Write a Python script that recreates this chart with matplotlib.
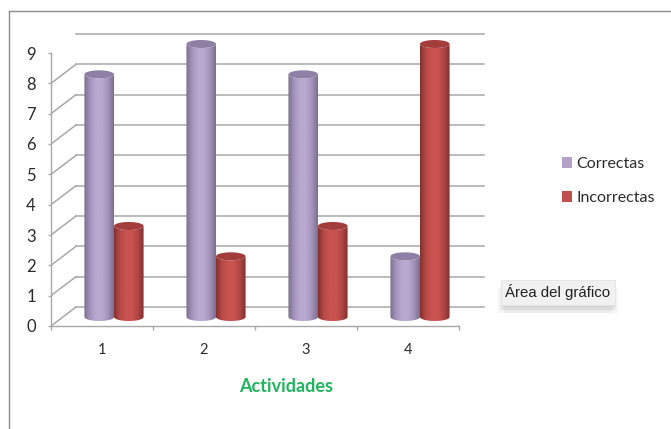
import numpy as np
import matplotlib
matplotlib.use("Agg")
import matplotlib.pyplot as plt
from matplotlib.colors import LinearSegmentedColormap
from matplotlib.lines import Line2D
from matplotlib.patches import Patch, PathPatch
from matplotlib.path import Path
from matplotlib.patheffects import withSimplePatchShadow
from matplotlib.transforms import Affine2D

categories = ["1", "2", "3", "4"]
correctas = [8, 9, 8, 2]
incorrectas = [3, 2, 3, 9]
y_ticks = list(range(10))

W, H = 671, 429
GRAY = "#a8a8a8"
TEXT = "#2b2b2b"
plt.rcParams["font.family"] = ["Lato", "DejaVu Sans"]

fig = plt.figure(figsize=(W / 100, H / 100), dpi=100)
# front plane of the 3D box: x 51..459, y 326..53 in pixels
ax = fig.add_axes([51 / W, 1 - 326 / H, 408 / W, 273 / H])
ax.set_xlim(0.5, 4.5)
ax.set_ylim(0, 9)
ax.patch.set_visible(False)
for s in ["top", "right"]:
    ax.spines[s].set_visible(False)
for s in ["left", "bottom"]:
    ax.spines[s].set_color(GRAY)
    ax.spines[s].set_linewidth(1.0)

ax.set_yticks(y_ticks)
ax.set_xticks(range(1, 5))
ax.set_xticklabels(categories)
ax.set_xticks(np.arange(0.5, 5, 1), minor=True)
ax.tick_params(axis="x", which="major", length=0, pad=12, labelsize=10.5, labelcolor=TEXT)
ax.tick_params(axis="x", which="minor", length=3, color=GRAY, width=1.0)
ax.tick_params(axis="y", length=2, color=GRAY, width=1.0, pad=9, labelsize=12, labelcolor=TEXT)

# back wall is the front plane pushed by the depth offset
back = ax.transData + Affine2D().translate(25, 19)
mid = ax.transData + Affine2D().translate(12, 9)

for v in y_ticks:
    ax.plot([0.5, 4.5], [v, v], transform=back, color=GRAY, lw=1.1, clip_on=False, zorder=1)
    # side wall diagonal
    x0, y0 = ax.transData.transform((0.5, v))
    x1, y1 = back.transform((0.5, v))
    ax.add_line(Line2D([x0, x1], [y0, y1], transform=None, color=GRAY, lw=1.1, zorder=1))
# floor, right side
x0, y0 = ax.transData.transform((4.5, 0))
x1, y1 = back.transform((4.5, 0))
ax.add_line(Line2D([x0, x1], [y0, y1], transform=None, color=GRAY, lw=1.1, zorder=1))

purple_cmap = LinearSegmentedColormap.from_list(
    "p", ["#7d6f90", "#a493bb", "#b9a8d0", "#b9a8d0", "#a493bb", "#7d6f90"])
red_cmap = LinearSegmentedColormap.from_list(
    "r", ["#843130", "#b84a47", "#c9534f", "#c9534f", "#b04644", "#843130"])
grad = np.linspace(0, 1, 64).reshape(1, -1)

BAR_W = 0.29
RY = 4 / 30.33  # ellipse half height in value units


def cylinder(center, value, cmap, top_color, z):
    left, right = center - BAR_W / 2, center + BAR_W / 2
    t = np.linspace(np.pi, 2 * np.pi, 40)
    bx = center + BAR_W / 2 * np.cos(t)
    by = RY * np.sin(t)
    tx = center + BAR_W / 2 * np.cos(t[::-1])
    ty = value + RY * np.sin(t[::-1])
    body = Path(np.column_stack([np.r_[bx, tx], np.r_[by, ty]]))
    im = ax.imshow(grad, extent=(left, right, -RY, value + RY), aspect="auto", cmap=cmap,
                   transform=mid, zorder=z)
    im.set_clip_path(PathPatch(body, transform=mid))
    im.set_clip_box(fig.bbox)
    t2 = np.linspace(0, 2 * np.pi, 60)
    top = Path(np.column_stack([center + BAR_W / 2 * np.cos(t2), value + RY * np.sin(t2)]))
    ax.add_patch(PathPatch(top, transform=mid, facecolor=top_color, edgecolor="none",
                           zorder=z + 0.1, clip_on=False))


for i, cat in enumerate(categories):
    cylinder(i + 1 - BAR_W / 2, correctas[i], purple_cmap, "#8e7fa4", 3 + i * 0.01)
    cylinder(i + 1 + BAR_W / 2, incorrectas[i], red_cmap, "#a23d3b", 4 + i * 0.01)
ax.set_xlim(0.5, 4.5)
ax.set_ylim(0, 9)

ax.set_xlabel("Actividades", fontsize=13, fontweight="bold", color="#22b35e")
ax.xaxis.set_label_coords((286 - 51) / 408, -(387 - 326) / 273, transform=ax.transAxes)
ax.xaxis.label.set_verticalalignment("center")

handles = [Patch(facecolor="#b3a2c7", label="Correctas"), Patch(facecolor="#c0504d", label="Incorrectas")]
fig.legend(handles=handles, loc="center left", bbox_to_anchor=(562 / W, 1 - 181 / H),
           frameon=False, fontsize=11.5, labelcolor=TEXT, handlelength=0.62, handleheight=0.62,
           handletextpad=0.3, labelspacing=1.25, borderpad=0, borderaxespad=0)

# chart frame
fig.add_artist(Line2D([9 / W, 9 / W], [0, 1 - 11 / H], color="#8c8c8c", lw=1.0))
fig.add_artist(Line2D([9 / W, 1], [1 - 11 / H, 1 - 11 / H], color="#8c8c8c", lw=1.0))

tip = fig.text(558 / W, 1 - 292 / H, "Área del gráfico", ha="center", va="center",
               family="Liberation Sans", fontsize=10.8, color="#222222", zorder=10,
               bbox=dict(boxstyle="square,pad=0.3", facecolor="#f1f1f1", edgecolor="#e6e6e6", lw=0.5))
# stacked faint shadows stand in for the blurred tooltip shadow
tip.get_bbox_patch().set_path_effects(
    [withSimplePatchShadow(offset=o, shadow_rgbFace="#777777", alpha=0.07)
     for o in [(-2, -6), (2, -6), (-1, -4), (1, -4), (0, -2)]])

fig.savefig("out.png", dpi=100)
